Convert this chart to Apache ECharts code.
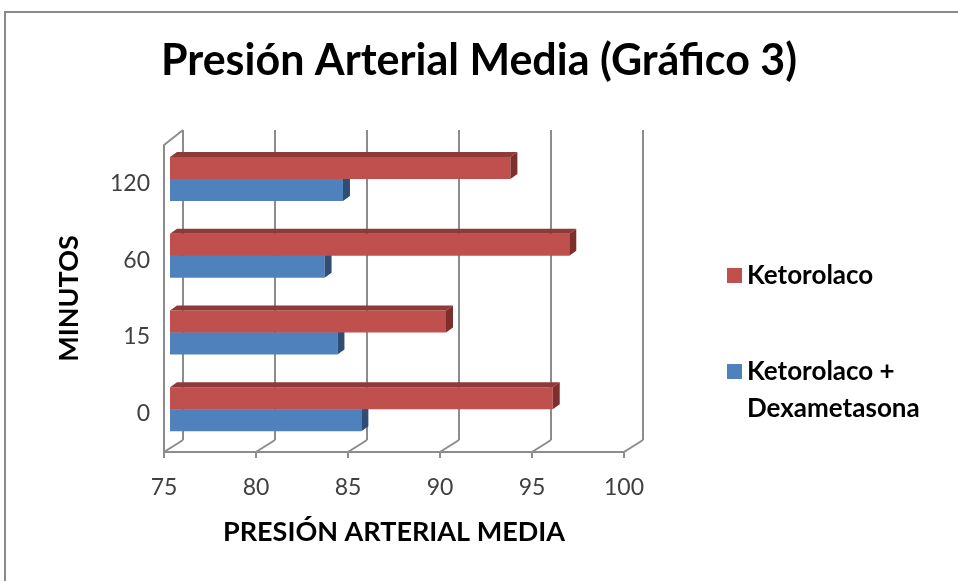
<!DOCTYPE html>
<html>
<head>
<meta charset="utf-8">
<script src="https://cdn.jsdelivr.net/npm/echarts@6/dist/echarts.min.js"></script>
<style>
  html, body { margin: 0; padding: 0; background: #fff; }
  #chart { width: 958px; height: 581px; }
</style>
</head>
<body>
<div id="chart"></div>
<script>
// Minutes after administration (bottom to top)
const CATEGORIES = ['0', '15', '60', '120'];
// Mean arterial pressure per group
const KETOROLACO = [95.8, 90.0, 96.7, 93.5];
const KETOROLACO_DEXA = [85.4, 84.1, 83.4, 84.4];
// Value axis ticks
const X_MIN = 75;
const X_MAX = 100;
const X_STEP = 5;
const X_TICKS = [75, 80, 85, 90, 95, 100];

const NAME_RED = 'Ketorolaco';
const NAME_BLUE = 'Ketorolaco + Dexametasona';

const FONT = 'Lato, "Open Sans", sans-serif';
const GRID_COLOR = '#8c8c8c';

// Oblique projection offsets: back wall, bar plane, and bar thickness
const WALL_DX = 19, WALL_DY_TOP = -15, WALL_DY_BOTTOM = -12;
const BAR_DX = 6, BAR_DY = -4.4;
const DEPTH_DX = 7, DEPTH_DY = -5;
const BAR_FRACTION = 0.287;

const chart = echarts.init(document.getElementById('chart'));

function barRenderer(upper, front, top, side) {
  return function (params, api) {
    const val = api.value(0);
    const cat = api.value(1);
    const end = api.coord([val, cat]);
    const start = api.coord([X_MIN, cat]);
    const band = api.size([0, 1])[1];
    const h = band * BAR_FRACTION;
    const y0 = (upper ? end[1] - h : end[1]) + BAR_DY;
    const x0 = start[0] + BAR_DX;
    const x1 = end[0] + BAR_DX;
    return {
      type: 'group',
      children: [
        { type: 'rect', shape: { x: x0, y: y0, width: x1 - x0, height: h },
          style: { fill: front } },
        { type: 'polygon', shape: { points: [[x0, y0], [x1, y0], [x1 + DEPTH_DX, y0 + DEPTH_DY], [x0 + DEPTH_DX, y0 + DEPTH_DY]] },
          style: { fill: top } },
        { type: 'polygon', shape: { points: [[x1, y0], [x1 + DEPTH_DX, y0 + DEPTH_DY], [x1 + DEPTH_DX, y0 + h + DEPTH_DY], [x1, y0 + h]] },
          style: { fill: side } }
      ]
    };
  };
}

// Back wall gridlines, floor diagonals and left wall edge
function frameRenderer(params, api) {
  const v = api.value(0);
  const cs = params.coordSys;
  const x = api.coord([v, 0])[0];
  const yTop = cs.y;
  const yBot = cs.y + cs.height;
  const style = { stroke: GRID_COLOR, lineWidth: 2 };
  const children = [
    { type: 'line', shape: { x1: x + WALL_DX, y1: yTop + WALL_DY_TOP, x2: x + WALL_DX, y2: yBot + WALL_DY_BOTTOM }, style },
    { type: 'line', shape: { x1: x, y1: yBot, x2: x + WALL_DX, y2: yBot + WALL_DY_BOTTOM }, style }
  ];
  if (v === X_MIN) {
    children.push({ type: 'line', shape: { x1: x, y1: yTop, x2: x + WALL_DX, y2: yTop + WALL_DY_TOP }, style });
  }
  return { type: 'group', children };
}

// Multi-line legend label whose first line sits level with the swatch
function legendLabel(name) {
  if (name === NAME_BLUE) {
    return ' \nKetorolaco +\nDexametasona';
  }
  return name;
}

chart.setOption({
  backgroundColor: '#fff',
  animation: false,
  title: {
    text: 'Presión Arterial Media (Gráfico 3)',
    left: 'center',
    top: 35,
    textStyle: { fontFamily: FONT, fontSize: 43, fontWeight: 'bold', color: '#000' }
  },
  graphic: [{
    type: 'rect',
    shape: { x: 5, y: 12, width: 1000, height: 1000 },
    style: { fill: 'none', stroke: '#8a8a8a', lineWidth: 2 },
    silent: true
  }],
  legend: {
    orient: 'vertical',
    left: 722,
    top: 252,
    itemGap: 22,
    itemWidth: 15,
    itemHeight: 15,
    icon: 'rect',
    formatter: legendLabel,
    textStyle: { fontFamily: FONT, fontSize: 26, fontWeight: 'bold', color: '#000', lineHeight: 37 },
    data: [NAME_RED, NAME_BLUE]
  },
  grid: { left: 164, right: 334, top: 145, bottom: 129 },
  xAxis: {
    type: 'value',
    min: X_MIN,
    max: X_MAX,
    interval: X_STEP,
    name: 'PRESIÓN ARTERIAL MEDIA',
    nameLocation: 'middle',
    nameGap: 67,
    nameTextStyle: { fontFamily: FONT, fontSize: 27, fontWeight: 'bold', color: '#000' },
    axisLine: { show: true, lineStyle: { color: GRID_COLOR, width: 2 } },
    axisTick: { show: true, length: 6, lineStyle: { color: GRID_COLOR, width: 2 } },
    axisLabel: { fontFamily: FONT, fontSize: 23, color: '#404040', margin: 24 },
    splitLine: { show: false }
  },
  yAxis: {
    type: 'category',
    data: CATEGORIES,
    name: 'MINUTOS',
    nameLocation: 'middle',
    nameRotate: 90,
    nameGap: 81,
    nameTextStyle: { fontFamily: FONT, fontSize: 27, fontWeight: 'bold', color: '#000' },
    axisLine: { show: true, lineStyle: { color: GRID_COLOR, width: 2 } },
    axisTick: { show: false },
    axisLabel: { fontFamily: FONT, fontSize: 23, color: '#404040', margin: 14 }
  },
  series: [
    {
      type: 'custom',
      name: 'frame',
      silent: true,
      z: 1,
      renderItem: frameRenderer,
      data: X_TICKS.map(v => [v]),
      encode: { x: 0 }
    },
    {
      type: 'custom',
      name: NAME_BLUE,
      z: 2,
      itemStyle: { color: '#4F81BD' },
      renderItem: barRenderer(false, '#4F81BD', '#3A6496', '#2E4E76'),
      data: KETOROLACO_DEXA.map((v, i) => [v, i]),
      encode: { x: 0, y: 1 }
    },
    {
      type: 'custom',
      name: NAME_RED,
      z: 3,
      itemStyle: { color: '#C0504D' },
      renderItem: barRenderer(true, '#C0504D', '#8E3A38', '#7F2E2C'),
      data: KETOROLACO.map((v, i) => [v, i]),
      encode: { x: 0, y: 1 }
    }
  ]
});
</script>
</body>
</html>
